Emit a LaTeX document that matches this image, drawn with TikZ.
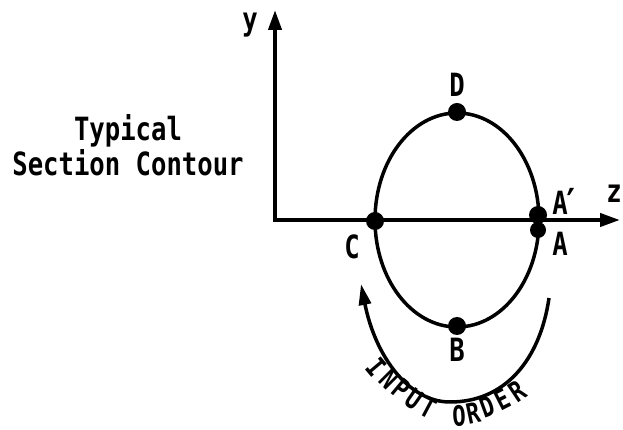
\documentclass[tikz,border=0pt]{standalone}
\usepackage{fontspec}
\newfontfamily\leroy[FakeStretch=0.8]{DejaVu Sans Mono}
\usetikzlibrary{arrows.meta}
\tikzset{
  lbl/.style={font=\leroy\bfseries\fontsize{32}{35}\selectfont, inner sep=0pt, align=center},
  arc/.style={font=\leroy\bfseries\fontsize{28}{30}\selectfont, inner sep=0pt},
  axis/.style={line width=4pt, -{Triangle[length=20pt,width=13pt]}},
  contour/.style={line width=3.5pt},
  pt/.style={circle, fill=black, minimum size=18pt, inner sep=0pt},
  flow/.style={line width=3.5pt, -{Triangle[length=21pt,width=12pt]}}
}
\begin{document}
\begin{tikzpicture}[x=1pt,y=1pt]
\useasboundingbox (0,0) rectangle (623,430);
% axes
\coordinate (O) at (275,210);
\coordinate (ytip) at (275,420);
\coordinate (ztip) at (620,210);
\draw[axis] (O) -- (ytip);
\draw[axis] ([xshift=-2pt]O) -- (ztip);
\node[lbl] (ylab) at (250,405) {y};
\node[lbl] (zlab) at (614,236) {z};
% contour
\coordinate (E) at (457,210);
\draw[contour] (E) ellipse [x radius=82pt, y radius=107pt];
\node[pt] (C) at (375,209) {};
\node[pt] (D) at (457,318) {};
\node[pt] (B) at (457,104) {};
\node[pt] (Ap) at (538,215) {};
\node[pt, minimum size=16pt] (A) at (538,200) {};
\node[lbl] (Clab) at (352,183) {C};
\node[lbl] (Dlab) at (457,345) {D};
\node[lbl] (Blab) at (457,80) {B};
\node[lbl] (Aplab) at (560,227) {A};
\node[lbl, anchor=north, font=\leroy\bfseries\fontsize{40}{40}\selectfont] (prime) at (571,242) {′};
\node[lbl] (Alab) at (560,186) {A};
\node[lbl] (title) at (128,285) {Typical\\Section Contour};
% input order arrow
\coordinate (s) at (549,132);
\coordinate (m) at (450,28);
\coordinate (t) at (361,146);
\draw[flow] (s) .. controls (540,70) and (505,28) .. (m)
                .. controls (408,28) and (375,75) .. (t);
\node[arc, rotate=-50] (i1) at (376,63) {I};
\node[arc, rotate=-45] (i2) at (389,51) {N};
\node[arc, rotate=-40] (i3) at (401,41) {P};
\node[arc, rotate=-35] (i4) at (414,31) {U};
\node[arc, rotate=-28] (i5) at (428,22) {T};
\node[arc, rotate=3] (o1) at (459,14) {O};
\node[arc, rotate=12] (o2) at (473,17) {R};
\node[arc, rotate=20] (o3) at (487,23) {D};
\node[arc, rotate=27] (o4) at (502,31) {E};
\node[arc, rotate=34] (o5) at (517,39) {R};
\end{tikzpicture}
\end{document}
